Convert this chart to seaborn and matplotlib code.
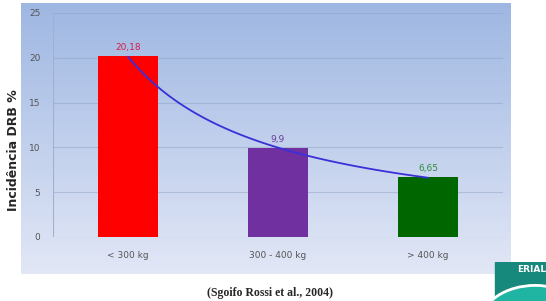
import numpy as np
import pandas as pd
import seaborn as sns
import matplotlib.pyplot as plt
from matplotlib.patches import Rectangle, Ellipse

categories = ["< 300 kg", "300 - 400 kg", "> 400 kg"]
incidence = [20.18, 9.9, 6.65]
value_labels = ["20,18", "9,9", "6,65"]
bar_colors = ["#ff0000", "#7030a0", "#006600"]
label_colors = ["#d0204a", "#6a3a9a", "#2e8b3e"]

df = pd.DataFrame({"peso": categories, "inc": incidence})

sns.set_style("white")
plt.rcParams['font.family'] = ['DejaVu Sans']

fig = plt.figure(figsize=(5.46, 3.01), dpi=100)
W, H = 546, 301

# gradient panel behind the chart
bg = fig.add_axes([21 / W, 1 - 274 / H, (511 - 21) / W, (274 - 3) / H])
top = np.array([158, 183, 226]) / 255
bot = np.array([226, 231, 246]) / 255
t = np.linspace(0, 1, 200)[:, None]
grad = top * (1 - t) + bot * t
bg.imshow(grad[:, None, :].repeat(10, axis=1), aspect="auto", extent=[0, 1, 0, 1])
bg.set_axis_off()

ax = fig.add_axes([53 / W, 1 - 237 / H, (503 - 53) / W, (237 - 13) / H])
ax.patch.set_alpha(0)
sns.barplot(data=df, x="peso", y="inc", hue="peso", palette=bar_colors,
            width=0.4, legend=False, ax=ax, saturation=1, linewidth=0)
ax.set_ylim(0, 25)
ax.set_xlim(-0.5, 2.5)
ax.set_yticks(range(0, 26, 5))
ax.grid(axis="y", color="#8fa3c6", linewidth=0.8, alpha=0.5)
ax.set_axisbelow(True)
for s in ax.spines.values():
    s.set_visible(False)
ax.axvline(-0.5, color="#9fb0d0", linewidth=0.8)
ax.tick_params(axis="both", length=0, labelsize=6.5, colors="#555555")
ax.tick_params(axis="x", pad=10)
ax.tick_params(axis="y", pad=9)
ax.set_xlabel("")
ax.set_ylabel("")

for i, (v, lab, c) in enumerate(zip(incidence, value_labels, label_colors)):
    ax.text(i, v + 0.5, lab, ha="center", va="bottom", fontsize=6.5, color=c)

# power trendline fitted to the bar values
xs = np.arange(1, len(incidence) + 1)
b, a = np.polyfit(np.log(xs), np.log(incidence), 1)
xf = np.linspace(1, len(incidence), 100)
ax.plot(xf - 1, np.exp(a) * xf ** b, color="#3a2fd8", linewidth=1.3)

fig.text(14 / W, 1 - 150 / H, "Incidência DRB %", rotation=90, ha="center",
         va="center", fontsize=9, fontweight="bold")
fig.text(270 / W, 1 - 293 / H, "(Sgoifo Rossi et al., 2004)", ha="center",
         va="center", fontsize=8.5, fontweight="bold", family="Liberation Serif")

# logo corner
lg = fig.add_axes([492 / W, 0, (W - 492) / W, 39 / H])
lg.set_xlim(0, 1)
lg.set_ylim(0, 1)
lg.add_patch(Rectangle((0.05, 0), 0.95, 1, color="#17897c"))
lg.add_patch(Ellipse((0.8, -0.55), 2.0, 1.9, facecolor="#20b5a2",
                     edgecolor="white", linewidth=2))
lg.text(1.0, 0.8, "ERIAL", color="white", fontsize=6.5, fontweight="bold",
        ha="right", va="center")
lg.set_axis_off()

fig.savefig("out.png", dpi=100)
